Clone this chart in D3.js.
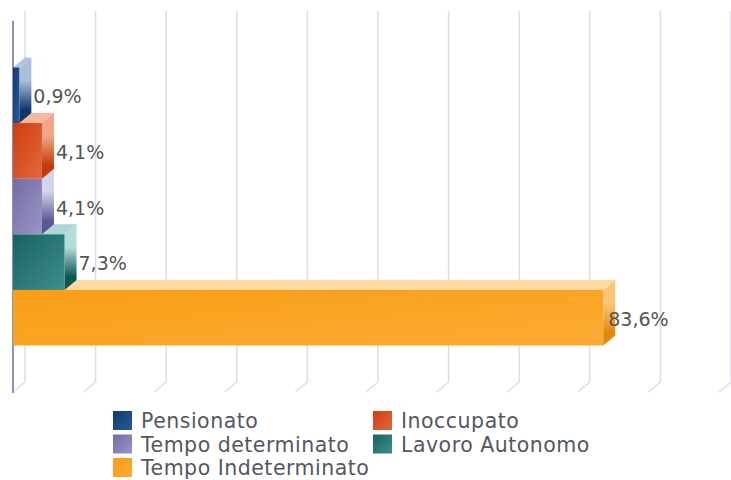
<!DOCTYPE html>
<html>
<head>
<meta charset="utf-8">
<script src="https://cdn.jsdelivr.net/npm/d3@7"></script>
<style>
  html, body { margin: 0; padding: 0; background: #ffffff; }
  svg { display: block; }
</style>
</head>
<body>
<div id="chart"></div>
<script>
// ---- data ----
const categories = ["Pensionato", "Inoccupato", "Tempo determinato", "Lavoro Autonomo", "Tempo Indeterminato"];
const values = [0.9, 4.1, 4.1, 7.3, 83.6];
const valueLabels = ["0,9%", "4,1%", "4,1%", "7,3%", "83,6%"];
const gridTicks = [0, 10, 20, 30, 40, 50, 60, 70, 80, 90, 100];

// ---- styling (not data) ----
const palette = {
  "Pensionato":          { front: "#0f3a72", front2: "#2a5a92", top: "#b2c4dc", side1: "#aabfd8", side2: "#0d376c" },
  "Inoccupato":          { front: "#cf3e0e", front2: "#e2683e", top: "#f5b79e", side1: "#f2a588", side2: "#c43a08" },
  "Tempo determinato":   { front: "#726ca8", front2: "#9a95c6", top: "#cdcfe7", side1: "#d3d5ec", side2: "#5b5796" },
  "Lavoro Autonomo":     { front: "#17645f", front2: "#3e8e89", top: "#acd7d3", side1: "#b4dcd8", side2: "#0d5753" },
  "Tempo Indeterminato": { front: "#f99e16", front2: "#fbab34", top: "#fed9a2", side1: "#fcc677", side2: "#e5870a" }
};

const W = 731, H = 480;
const DX = 12, DY = 10; // 3D depth offset
const svg = d3.select("#chart").append("svg").attr("width", W).attr("height", H);
const defs = svg.append("defs");

const x = d3.scaleLinear().domain([0, 100]).range([13, 719]);
const y = d3.scaleBand().domain(categories).range([21, 392]).paddingInner(0).paddingOuter(0.835);

// gradients
categories.forEach((c, i) => {
  const p = palette[c];
  const gf = defs.append("linearGradient").attr("id", "gf" + i)
    .attr("x1", "0").attr("y1", "0").attr("x2", "1").attr("y2", "1");
  gf.append("stop").attr("offset", "0").attr("stop-color", p.front);
  gf.append("stop").attr("offset", "1").attr("stop-color", p.front2);
  const gs = defs.append("linearGradient").attr("id", "gs" + i)
    .attr("x1", "0").attr("y1", "0").attr("x2", "0").attr("y2", "1");
  gs.append("stop").attr("offset", "0").attr("stop-color", p.side1);
  gs.append("stop").attr("offset", "0.35").attr("stop-color", p.side1);
  gs.append("stop").attr("offset", "0.8").attr("stop-color", p.side2);
  gs.append("stop").attr("offset", "1").attr("stop-color", p.side2);
});

// gridlines (back plane + floor diagonal)
const y0 = y.range()[0], y1 = y.range()[1];
const grid = svg.append("g").attr("fill", "none").attr("stroke", "#dddde9").attr("stroke-width", 1.5);
grid.selectAll("path").data(gridTicks).join("path")
  .attr("d", t => `M${x(t) + DX},${y0 - DY} L${x(t) + DX},${y1 - DY} L${x(t)},${y1}`);

// axis line (front)
svg.append("line")
  .attr("x1", x(0)).attr("x2", x(0)).attr("y1", y0).attr("y2", y1 + 1)
  .attr("stroke", "#8e8fba").attr("stroke-width", 2);

// bars, drawn bottom to top so upper front faces cover lower top faces
const data = categories.map((c, i) => ({ c, v: values[i], label: valueLabels[i], i }));
const bars = svg.append("g");
data.slice().reverse().forEach(d => {
  const g = bars.append("g");
  const xa = x(0), xb = x(d.v), ya = y(d.c), yb = y(d.c) + y.bandwidth();
  const p = palette[d.c];
  // top face
  g.append("path")
    .attr("d", `M${xa},${ya} L${xb},${ya} L${xb + DX},${ya - DY} L${xa + DX},${ya - DY} Z`)
    .attr("fill", p.top);
  // side face
  g.append("path")
    .attr("d", `M${xb},${ya} L${xb + DX},${ya - DY} L${xb + DX},${yb - DY} L${xb},${yb} Z`)
    .attr("fill", `url(#gs${d.i})`);
  // front face
  g.append("rect")
    .attr("x", xa).attr("y", ya).attr("width", xb - xa).attr("height", yb - ya)
    .attr("fill", `url(#gf${d.i})`);
});

// value labels
svg.append("g").selectAll("text").data(data).join("text")
  .attr("x", d => x(d.v) + (d.v > 50 ? 5 : 14))
  .attr("y", d => y(d.c) + y.bandwidth() / 2 + 8)
  .attr("font-family", "DejaVu Sans, sans-serif")
  .attr("font-size", 19)
  .attr("fill", "#555555")
  .text(d => d.label);

// legend
const legCols = [113, 373];
const legRow0 = 411, legPitch = 23.5;
const legend = svg.append("g");
data.forEach((d, k) => {
  const col = k % 2, row = Math.floor(k / 2);
  const lx = legCols[col], ly = legRow0 + row * legPitch;
  legend.append("rect").attr("x", lx).attr("y", ly).attr("width", 19).attr("height", 19)
    .attr("fill", `url(#gf${d.i})`);
  legend.append("text").attr("x", lx + 28).attr("y", ly + 17)
    .attr("font-family", "DejaVu Sans, sans-serif")
    .attr("font-size", 20.5)
    .attr("letter-spacing", 0.5)
    .attr("fill", "#555760")
    .text(d.c);
});
</script>
</body>
</html>
